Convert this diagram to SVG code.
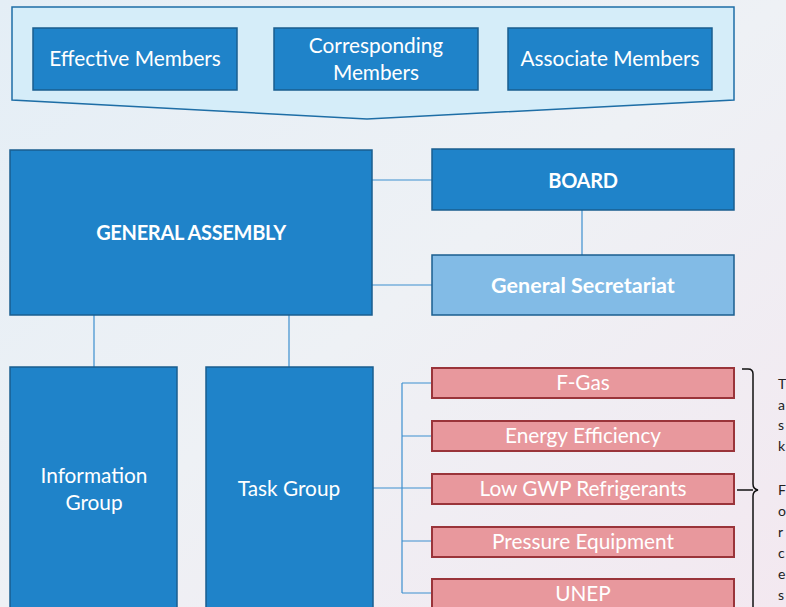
<svg xmlns="http://www.w3.org/2000/svg" width="786" height="607" viewBox="0 0 786 607">
<defs>
<linearGradient id="bg" x1="0" y1="0" x2="1" y2="1">
<stop offset="0" stop-color="#e4eef6"/>
<stop offset="0.5" stop-color="#eef1f5"/>
<stop offset="1" stop-color="#f3e8f0"/>
</linearGradient>
<style>
.blue{fill:#1f83c9;stroke:#1a5e8f;stroke-width:1.5}
.light{fill:#82bbe6;stroke:#1a5e8f;stroke-width:1.5}
.red{fill:#e8989d;stroke:#9a343a;stroke-width:2}
.t{font-family:Lato,"Open Sans",sans-serif;fill:#ffffff;text-anchor:middle}
.n{font-size:20.8px}
.b{font-size:20px;font-weight:bold;letter-spacing:-0.3px}
.g{font-size:21.5px;font-weight:bold;letter-spacing:0px}
.r{font-size:20.8px}
.con{stroke:#3d8fcf;stroke-width:1.2;fill:none}
.side{font-family:Lato,"Open Sans",sans-serif;font-size:14px;fill:#222}
</style>
</defs>
<rect width="786" height="607" fill="url(#bg)"/>
<g id="members-panel">
<path d="M12 7 H734 V100 L367 119 L12 100 Z" fill="#d5edf9" stroke="#1e6ea6" stroke-width="1.5"/>
</g>
<g id="effective-members"><rect class="blue" x="33" y="28" width="204" height="62"/><text class="t n" x="135" y="66">Effective Members</text></g>
<g id="corresponding-members"><rect class="blue" x="274" y="28" width="204" height="62"/><text class="t n" x="376" y="53">Corresponding</text><text class="t n" x="376" y="80">Members</text></g>
<g id="associate-members"><rect class="blue" x="508" y="28" width="204" height="62"/><text class="t n" x="610" y="66">Associate Members</text></g>
<g id="connectors">
<path class="con" d="M372 180 H432 M372 285 H432 M582 210 V255 M94 315 V367 M289 315 V367 M373 488 H402 M402 383 V593 M402 383 H432 M402 436 H432 M402 488 H432 M402 541 H432 M402 593 H432"/>
</g>
<g id="general-assembly"><rect class="blue" x="10" y="150" width="362" height="165"/><text class="t b" x="191" y="240">GENERAL ASSEMBLY</text></g>
<g id="board"><rect class="blue" x="432" y="149" width="302" height="61"/><text class="t b" x="583" y="188">BOARD</text></g>
<g id="general-secretariat"><rect class="light" x="432" y="255" width="302" height="60"/><text class="t g" x="583" y="293">General Secretariat</text></g>
<g id="information-group"><rect class="blue" x="10" y="367" width="167" height="250"/><text class="t n" x="94" y="483">Information</text><text class="t n" x="94" y="510">Group</text></g>
<g id="task-group"><rect class="blue" x="206" y="367" width="167" height="250"/><text class="t n" x="289" y="496">Task Group</text></g>
<g id="f-gas"><rect class="red" x="432" y="368" width="302" height="30"/><text class="t r" x="583" y="390">F-Gas</text></g>
<g id="energy-efficiency"><rect class="red" x="432" y="421" width="302" height="30"/><text class="t r" x="583" y="443">Energy Efficiency</text></g>
<g id="low-gwp"><rect class="red" x="432" y="474" width="302" height="30"/><text class="t r" x="583" y="496">Low GWP Refrigerants</text></g>
<g id="pressure-equipment"><rect class="red" x="432" y="527" width="302" height="30"/><text class="t r" x="583" y="549">Pressure Equipment</text></g>
<g id="unep"><rect class="red" x="432" y="579" width="302" height="32"/><text class="t r" x="583" y="601">UNEP</text></g>
<g id="bracket">
<path d="M742 369 H748 Q753 369 753 374 V484 Q753 489 758 490 Q753 491 753 496 V607" fill="none" stroke="#111" stroke-width="1.5"/>
<path d="M737 490 H753" stroke="#111" stroke-width="1.5"/>
</g>
<g id="side-text" class="side">
<text x="778" y="389">T</text>
<text x="778" y="410">a</text>
<text x="778" y="430">s</text>
<text x="778" y="451">k</text>
<text x="778" y="495">F</text>
<text x="778" y="516">o</text>
<text x="778" y="537">r</text>
<text x="778" y="558">c</text>
<text x="778" y="579">e</text>
<text x="778" y="600">s</text>
</g>
</svg>
